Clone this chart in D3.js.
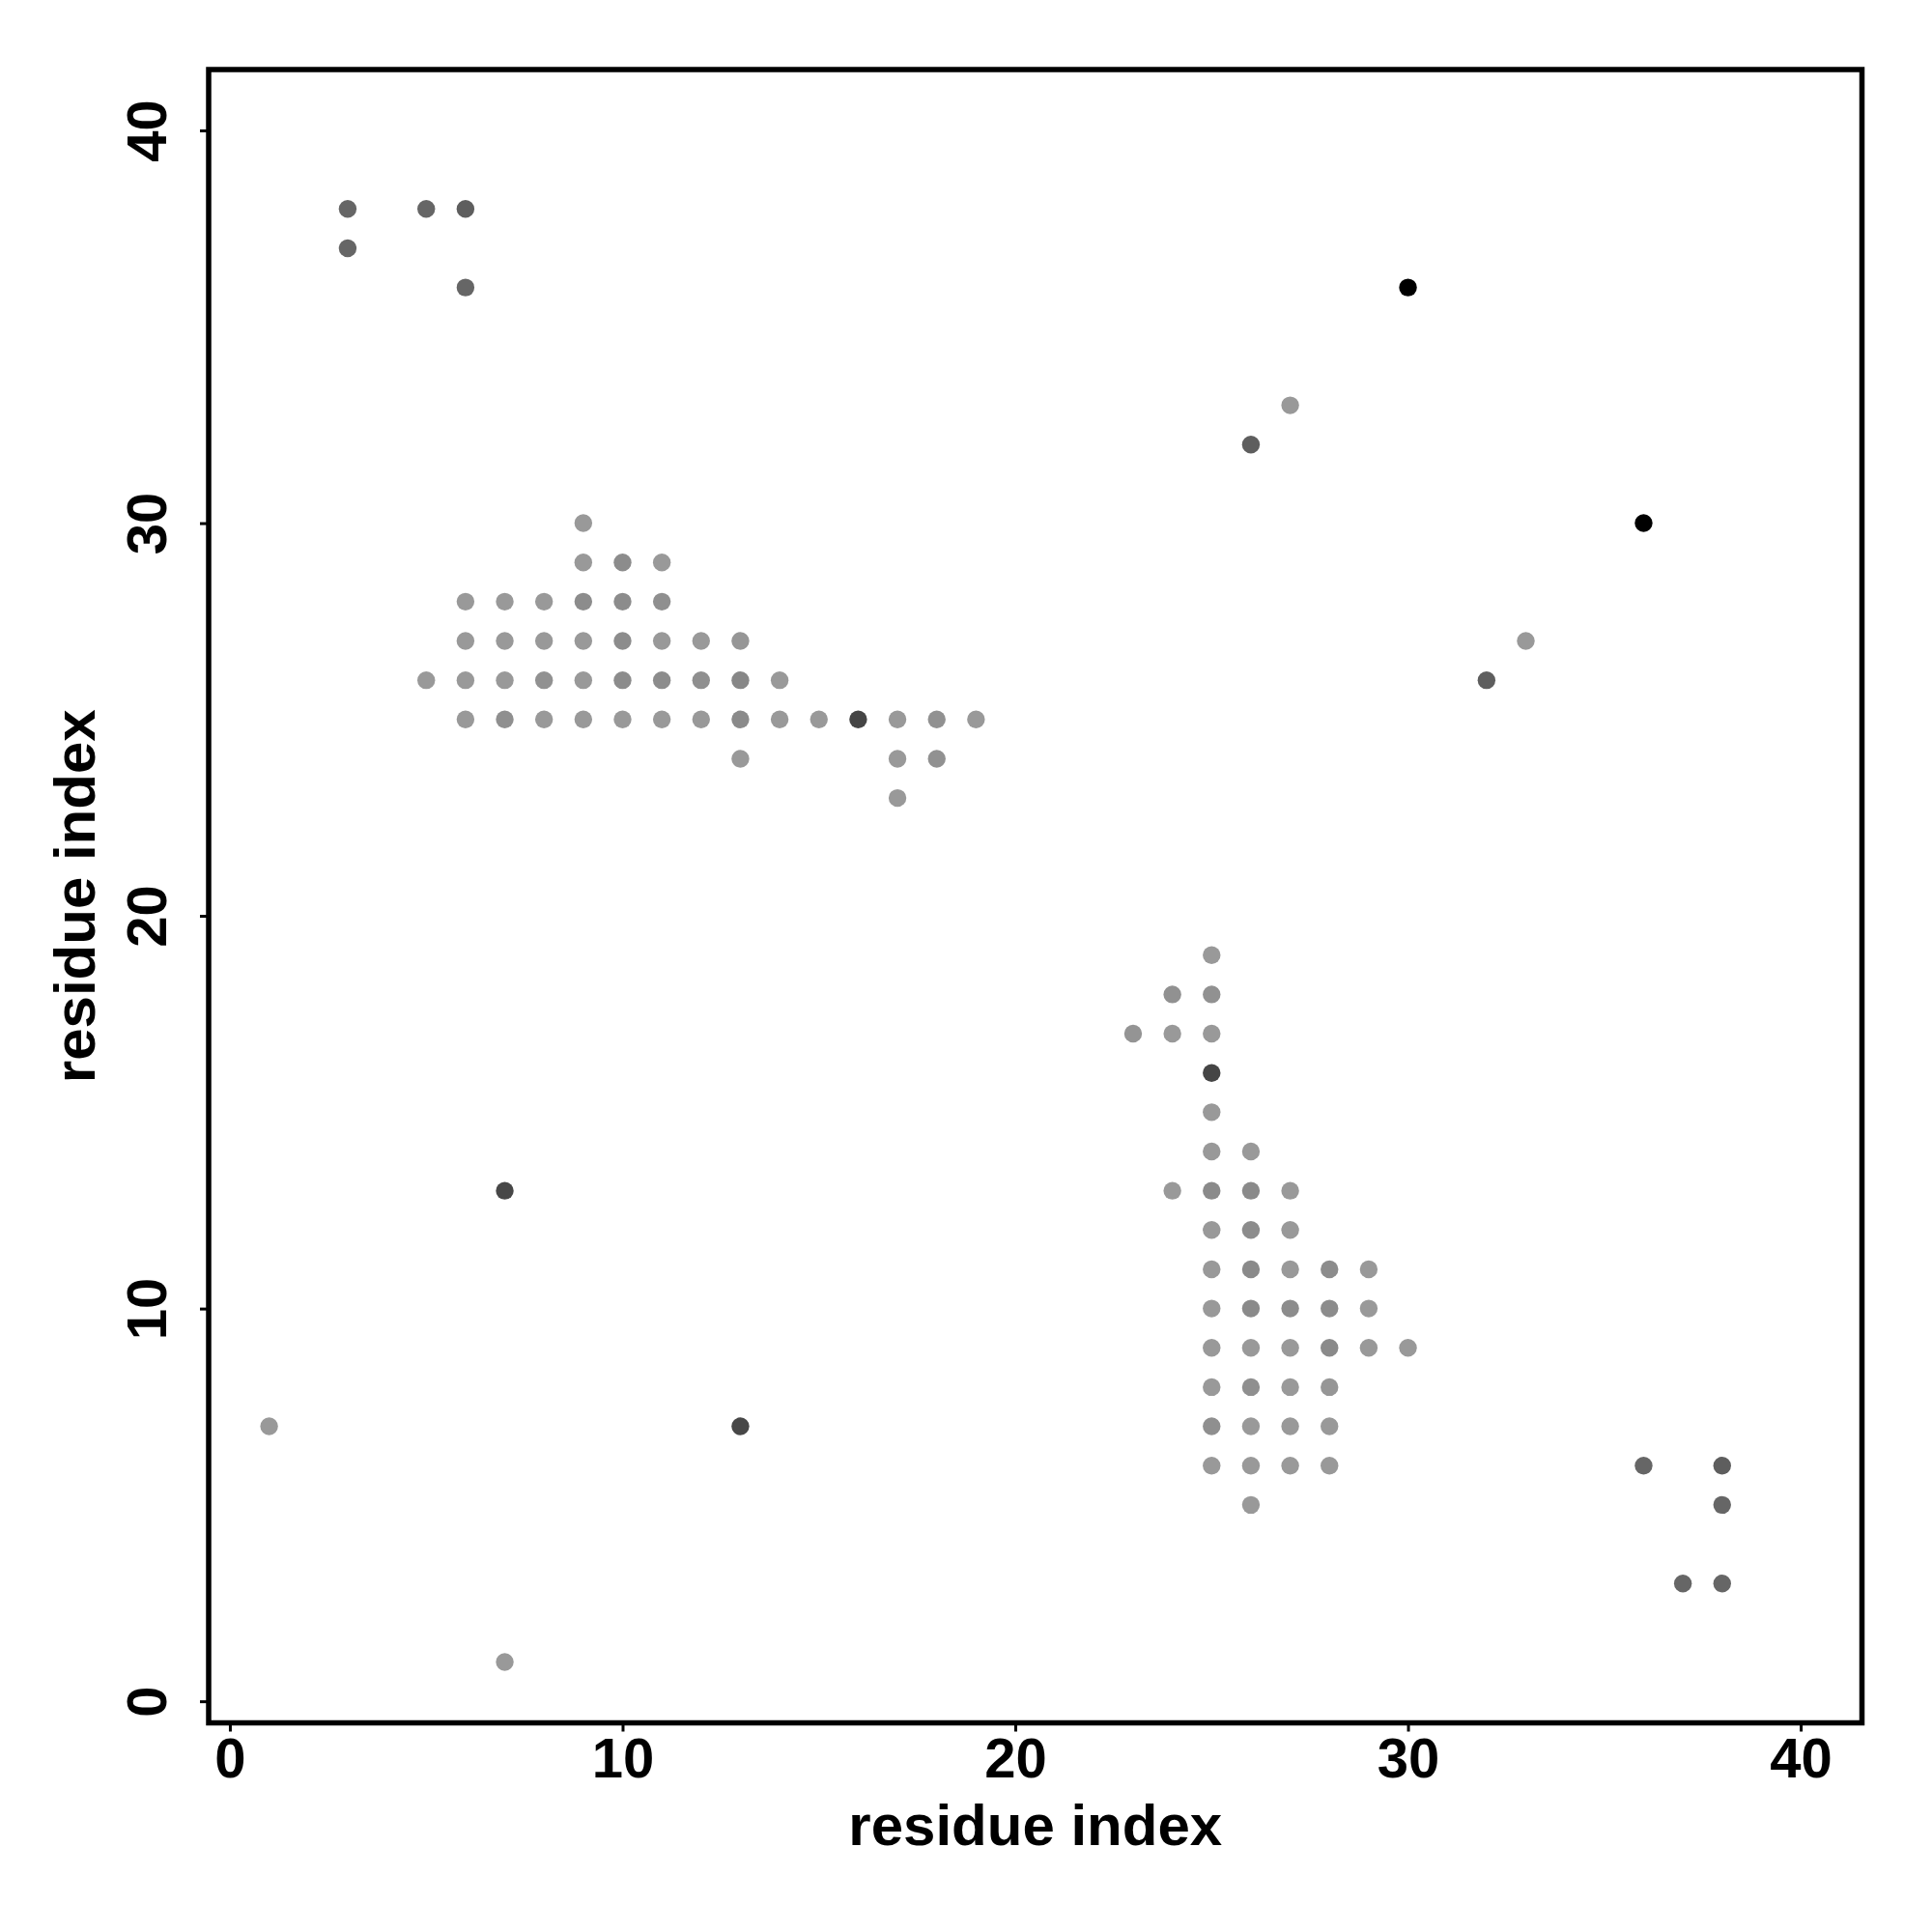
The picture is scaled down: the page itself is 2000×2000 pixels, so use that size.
<!DOCTYPE html>
<html>
<head>
<meta charset="utf-8">
<script src="https://cdn.jsdelivr.net/npm/d3@7"></script>
<style>
  html, body { margin: 0; padding: 0; background: #ffffff; }
  svg { display: block; }
  text { font-family: "Liberation Sans", Arial, Helvetica, sans-serif; font-weight: bold; fill: #000; }
</style>
</head>
<body>
<script>
// ---- data: contact map points (residue i, residue j, contact strength 0..1) ----
const residueI = [
  // upper-left clusters
  3, 5, 6, 3, 6,
  9,
  9, 10, 11,
  6, 7, 8, 9, 10, 11,
  6, 7, 8, 9, 10, 11, 12, 13,
  5, 6, 7, 8, 9, 10, 11, 12, 13, 14,
  6, 7, 8, 9, 10, 11, 12, 13, 14, 15, 16, 17, 18, 19,
  13, 17, 18,
  17,
  // upper-right isolated
  30, 27, 26, 36, 33, 32,
  // lower-left isolated
  7, 13, 1, 7,
  // lower-right cluster
  25,
  24, 25,
  23, 24, 25,
  25,
  25,
  25, 26,
  24, 25, 26, 27,
  25, 26, 27,
  25, 26, 27, 28, 29,
  25, 26, 27, 28, 29,
  25, 26, 27, 28, 29, 30,
  25, 26, 27, 28,
  25, 26, 27, 28,
  25, 26, 27, 28,
  26,
  // far lower-right
  36, 38, 38, 37, 38
];
const residueJ = [
  38, 38, 38, 37, 36,
  30,
  29, 29, 29,
  28, 28, 28, 28, 28, 28,
  27, 27, 27, 27, 27, 27, 27, 27,
  26, 26, 26, 26, 26, 26, 26, 26, 26, 26,
  25, 25, 25, 25, 25, 25, 25, 25, 25, 25, 25, 25, 25, 25,
  24, 24, 24,
  23,
  36, 33, 32, 30, 27, 26,
  13, 7, 7, 1,
  19,
  18, 18,
  17, 17, 17,
  16,
  15,
  14, 14,
  13, 13, 13, 13,
  12, 12, 12,
  11, 11, 11, 11, 11,
  10, 10, 10, 10, 10,
  9, 9, 9, 9, 9, 9,
  8, 8, 8, 8,
  7, 7, 7, 7,
  6, 6, 6, 6,
  5,
  6, 6, 5, 3, 3
];
const strength = [
  0.60, 0.60, 0.63, 0.60, 0.60,
  0.40,
  0.40, 0.45, 0.40,
  0.40, 0.40, 0.40, 0.45, 0.45, 0.44,
  0.40, 0.40, 0.40, 0.40, 0.45, 0.40, 0.40, 0.41,
  0.40, 0.40, 0.40, 0.43, 0.40, 0.45, 0.45, 0.44, 0.47, 0.40,
  0.40, 0.44, 0.40, 0.40, 0.40, 0.40, 0.40, 0.46, 0.40, 0.40, 0.73, 0.40, 0.43, 0.40,
  0.40, 0.40, 0.43,
  0.40,
  1.00, 0.40, 0.63, 1.00, 0.40, 0.63,
  0.72, 0.72, 0.40, 0.40,
  0.40,
  0.43, 0.43,
  0.42, 0.40, 0.40,
  0.73,
  0.40,
  0.40, 0.40,
  0.40, 0.46, 0.46, 0.40,
  0.40, 0.45, 0.40,
  0.40, 0.46, 0.40, 0.45, 0.40,
  0.40, 0.46, 0.45, 0.45, 0.40,
  0.40, 0.40, 0.40, 0.46, 0.40, 0.40,
  0.40, 0.44, 0.40, 0.41,
  0.44, 0.40, 0.40, 0.40,
  0.40, 0.40, 0.40, 0.40,
  0.40,
  0.60, 0.63, 0.60, 0.60, 0.60
];
const xTicks = [0, 10, 20, 30, 40];
const yTicks = [0, 10, 20, 30, 40];
const xLabel = "residue index";
const yLabel = "residue index";

// ---- layout ----
const W = 2000, H = 2000;
const mLeft = 216, mRight = 1927.5, mTop = 72, mBottom = 1783.5;

const x = d3.scaleLinear().domain([-0.54, 41.56]).range([mLeft, mRight]);
const y = d3.scaleLinear().domain([-0.55, 41.55]).range([mBottom, mTop]);
const gray = d3.scaleLinear().domain([0, 1]).range(["#ffffff", "#000000"]);

const svg = d3.select("body").append("svg")
  .attr("width", W).attr("height", H)
  .attr("viewBox", `0 0 ${W} ${H}`);

svg.append("rect").attr("width", W).attr("height", H).attr("fill", "#fff");

const points = residueI.map((d, k) => ({ i: d, j: residueJ[k], s: strength[k] }));

svg.append("g")
  .selectAll("circle")
  .data(points)
  .join("circle")
  .attr("cx", d => x(d.i))
  .attr("cy", d => y(d.j))
  .attr("r", 9.2)
  .attr("fill", d => gray(d.s));

// axes
const xAxis = svg.append("g")
  .attr("transform", `translate(0,${mBottom})`)
  .call(d3.axisBottom(x).tickValues(xTicks).tickSize(9).tickPadding(10).tickFormat(d3.format("d")));
xAxis.select(".domain").remove();
xAxis.selectAll(".tick line").attr("stroke", "#000").attr("stroke-width", 3);
xAxis.selectAll(".tick text")
  .attr("font-size", 58)
  .attr("dy", null)
  .attr("y", 56.5)
  .style("font-family", '"Liberation Sans", Arial, sans-serif')
  .style("font-weight", "bold");

const yAxis = svg.append("g")
  .attr("transform", `translate(${mLeft},0)`)
  .call(d3.axisLeft(y).tickValues(yTicks).tickSize(9).tickFormat(d3.format("d")));
yAxis.select(".domain").remove();
yAxis.selectAll(".tick line").attr("stroke", "#000").attr("stroke-width", 3);
yAxis.selectAll(".tick text")
  .attr("font-size", 58)
  .attr("x", null).attr("dy", null)
  .attr("text-anchor", "middle")
  .attr("transform", `translate(${172 - mLeft},0) rotate(-90)`)
  .style("font-family", '"Liberation Sans", Arial, sans-serif')
  .style("font-weight", "bold");

// frame
svg.append("rect")
  .attr("x", x.range()[0]).attr("y", y.range()[1])
  .attr("width", x.range()[1] - x.range()[0])
  .attr("height", y.range()[0] - y.range()[1])
  .attr("fill", "none").attr("stroke", "#000").attr("stroke-width", 5.5);

// axis titles
svg.append("text")
  .attr("x", (mLeft + mRight) / 2).attr("y", 1910)
  .attr("text-anchor", "middle").attr("font-size", 60)
  .text(xLabel);

svg.append("text")
  .attr("transform", `translate(98,${(mTop + mBottom) / 2}) rotate(-90)`)
  .attr("text-anchor", "middle").attr("font-size", 60)
  .text(yLabel);
</script>
</body>
</html>
